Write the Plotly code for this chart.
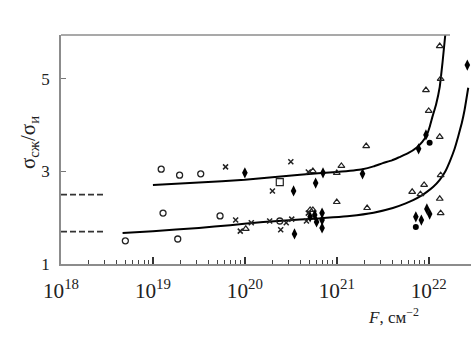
import plotly.graph_objects as go

# ---- data (log10 F, sigma ratio) ----
upper_curve_logF = [19.0, 19.5, 20.0, 20.6, 21.0, 21.28, 21.4, 21.5, 21.6, 21.68, 21.78, 21.87, 21.93,
                    21.98, 22.01, 22.04, 22.08, 22.12, 22.15, 22.18]
upper_curve_val = [2.71, 2.76, 2.82, 2.93, 2.99, 3.05, 3.11, 3.18, 3.24, 3.31, 3.40, 3.52, 3.64,
                   3.79, 3.96, 4.18, 4.45, 4.83, 5.35, 5.95]
lower_curve_logF = [18.67, 19.0, 19.5, 19.84, 20.2, 20.6, 21.14, 21.4, 21.61, 21.75, 21.83, 21.92, 21.98,
                    22.05, 22.12, 22.18, 22.23, 22.28, 22.32, 22.36, 22.39, 22.43]
lower_curve_val = [1.67, 1.71, 1.78, 1.84, 1.91, 1.96, 2.04, 2.11, 2.21, 2.31, 2.38, 2.48, 2.56,
                   2.67, 2.82, 3.00, 3.22, 3.48, 3.75, 4.05, 4.33, 4.81]

ref_levels = [2.5, 1.7]
ref_logF = [18.0, 18.48]

circ_logF = [18.70, 19.09, 19.29, 19.52, 19.11, 19.73, 19.27, 20.38]
circ_val = [1.50, 3.05, 2.92, 2.95, 2.10, 2.04, 1.54, 1.93]

cross_logF = [19.79, 20.50, 20.69, 20.30, 19.90, 19.95, 20.07, 20.27, 20.45, 20.51, 20.39, 20.67, 20.69]
cross_val = [3.10, 3.21, 2.99, 2.58, 1.95, 1.71, 1.89, 1.93, 1.89, 1.97, 1.74, 1.93, 2.10]

sq_logF = [20.38]
sq_val = [2.77]

dia_logF = [20.00, 20.53, 20.77, 20.85, 21.28, 20.54, 20.76, 20.78, 20.84, 20.84, 20.84, 20.71,
            21.97, 21.89, 22.42, 21.86, 21.92, 21.98, 22.01]
dia_val = [2.97, 2.58, 2.75, 2.97, 2.95, 1.65, 2.06, 1.91, 2.10, 1.95, 1.78, 2.02,
           3.79, 3.49, 5.30, 2.02, 1.95, 2.19, 2.08]

tri_logF = [20.74, 21.00, 21.05, 21.32, 21.00, 21.33, 20.71, 20.74, 20.01,
            22.12, 22.13, 21.97, 22.00, 22.12, 22.13, 21.95, 21.82, 21.91, 22.12, 22.13]
tri_val = [3.01, 2.97, 3.12, 3.55, 2.34, 2.21, 2.17, 2.17, 1.76,
           5.71, 5.00, 4.76, 4.31, 3.75, 2.92, 2.71, 2.56, 2.51, 2.41, 2.10]

fcirc_logF = [22.01, 21.86]
fcirc_val = [3.62, 1.80]

ytick_vals = [1, 3, 5]
minor_decades = [18, 19, 20, 21]
minor_digits = [2, 3, 4, 5, 6, 7, 8, 9]

p = lambda a: [10.0 ** v for v in a]
AX = "#8c8c8c"

fig = go.Figure()
for xs, ys in [(upper_curve_logF, upper_curve_val), (lower_curve_logF, lower_curve_val)]:
    fig.add_trace(go.Scatter(x=p(xs), y=ys, mode="lines",
                             line=dict(color="black", width=2, shape="spline", smoothing=0.4)))
for lv in ref_levels:
    fig.add_trace(go.Scatter(x=p(ref_logF), y=[lv, lv], mode="lines",
                             line=dict(color="#333", width=1.6, dash="6px,3px")))

fig.add_trace(go.Scatter(x=p(circ_logF), y=circ_val, mode="markers",
                         marker=dict(symbol="circle-open", size=6, color="#222", line=dict(width=1.3))))
fig.add_trace(go.Scatter(x=p(cross_logF), y=cross_val, mode="markers",
                         marker=dict(symbol="x-thin-open", size=5, color="#222", line=dict(width=1.5))))
fig.add_trace(go.Scatter(x=p(sq_logF), y=sq_val, mode="markers",
                         marker=dict(symbol="square-open", size=7, color="#222", line=dict(width=1.2))))
fig.add_trace(go.Scatter(x=p(tri_logF), y=tri_val, mode="markers",
                         marker=dict(symbol="triangle-up-open", size=6, color="#222", line=dict(width=1.2))))
fig.add_trace(go.Scatter(x=p(dia_logF), y=dia_val, mode="markers",
                         marker=dict(symbol="diamond-tall", size=8, color="black")))
fig.add_trace(go.Scatter(x=p(fcirc_logF), y=fcirc_val, mode="markers",
                         marker=dict(symbol="circle", size=6, color="black")))

minor_vals = [d * 10.0 ** e for e in minor_decades for d in minor_digits]

# invisible trace on the minor-tick axis so that axis is drawn
fig.add_trace(go.Scatter(x=[minor_vals[0]], y=[1.0], xaxis="x2", yaxis="y", mode="markers",
                         marker=dict(size=1, opacity=0), hoverinfo="skip"))

SERIF = "Liberation Serif"
fig.update_layout(
    width=471, height=344,
    margin=dict(l=61, r=0, t=35, b=80),
    paper_bgcolor="white", plot_bgcolor="white",
    showlegend=False,
    font=dict(family=SERIF, size=17, color="#222"),
    xaxis=dict(type="log", range=[18, 22.46], showgrid=False, zeroline=False,
               showline=True, linecolor=AX, linewidth=1.5,
               tickmode="linear", tick0=0, dtick=1,
               exponentformat="power", showexponent="all",
               ticks="inside", ticklen=7, tickcolor="#333", tickwidth=1.5,
               ticklabelstandoff=8),
    xaxis2=dict(type="log", range=[18, 22.46], overlaying="x", anchor="y", side="bottom",
                showgrid=False, zeroline=False, showline=False,
                tickmode="array", tickvals=minor_vals, showticklabels=False,
                ticks="inside", ticklen=4, tickcolor="#444", tickwidth=1.2),
    yaxis=dict(range=[1, 5.95], showgrid=False, zeroline=False,
               showline=True, linecolor=AX, linewidth=1.5,
               ticks="inside", ticklen=5, tickcolor="#777",
               tickvals=ytick_vals, ticktext=[str(v) for v in ytick_vals],
               ticklabelstandoff=6),
    shapes=[dict(type="line", xref="paper", yref="paper", x0=0, x1=(450 - 61) / 410, y0=1, y1=1,
                 line=dict(color=AX, width=1.5))],
    annotations=[
        dict(text="σ<sub>сж</sub>/σ<sub>и</sub>", xref="paper", yref="paper",
             x=(29 - 61) / 410, y=(264 - 143) / 229, textangle=-90, showarrow=False,
             font=dict(family=SERIF, size=21), xanchor="center", yanchor="middle"),
        dict(text="<i>F</i>, см<sup>−2</sup>", xref="paper", yref="paper",
             x=(393 - 61) / 410, y=(264 - 316) / 229, showarrow=False,
             font=dict(family=SERIF, size=17), xanchor="center", yanchor="middle"),
    ],
)
fig.write_html("out.html")
